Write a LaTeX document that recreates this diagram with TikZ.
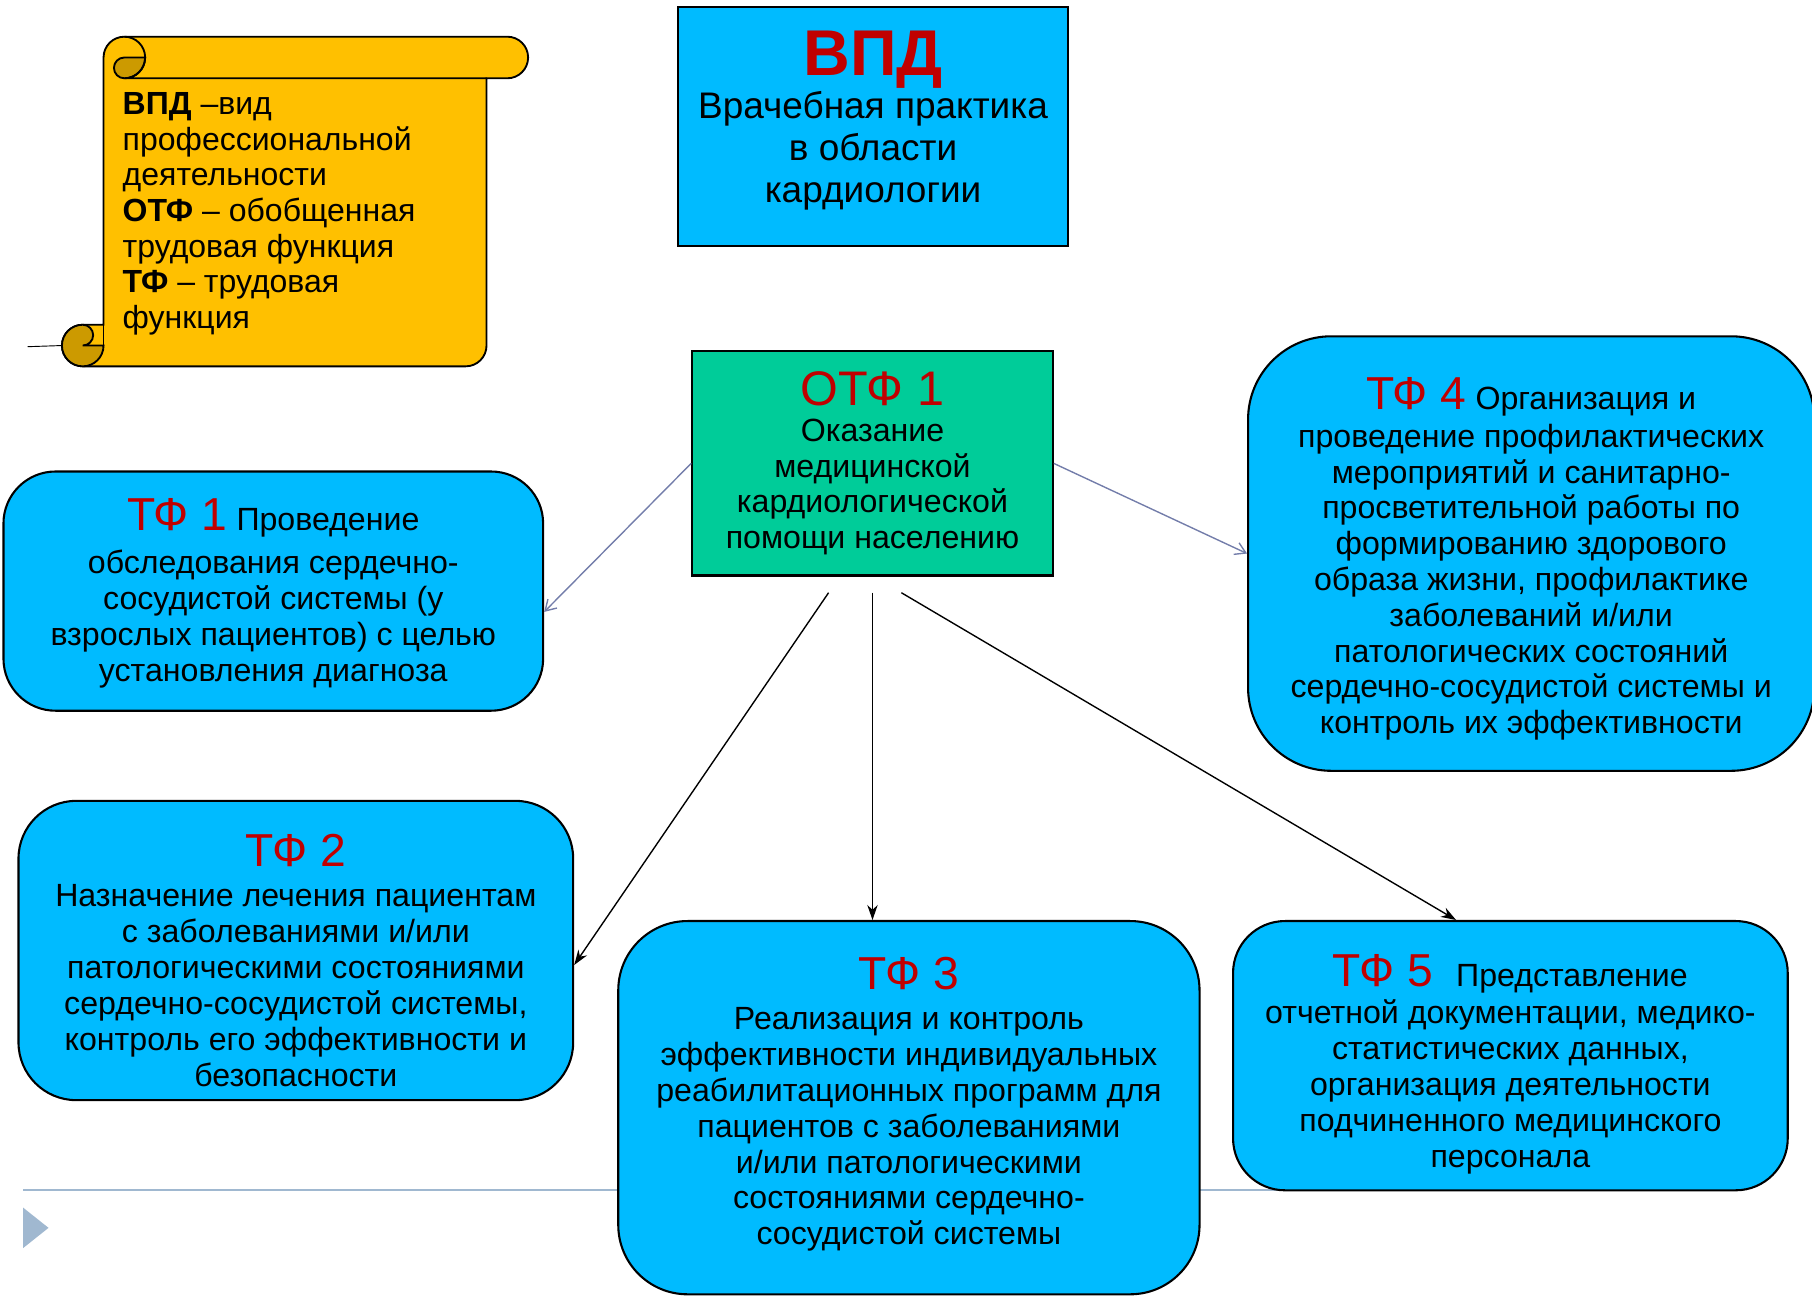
\documentclass[tikz,border=0pt]{standalone}
\usepackage{fontspec}
\setmainfont{Liberation Sans}
\usetikzlibrary{arrows.meta}
\definecolor{skyc}{RGB}{0,187,255}
\definecolor{otfc}{RGB}{0,204,153}
\definecolor{tfred}{RGB}{192,0,0}
\definecolor{scrollc}{RGB}{255,192,0}
\definecolor{scrolldark}{RGB}{204,154,0}
\definecolor{linec}{RGB}{160,184,208}
\definecolor{arrowc}{RGB}{115,125,170}
\newcommand{\tflabel}[1]{{\color{tfred}\fontsize{40}{44}\selectfont #1}}

\begin{document}
\begin{tikzpicture}[x=1pt,y=1pt,
  box/.style={draw,line width=1.8pt,inner sep=0pt},
  tfbox/.style={box,fill=skyc},
  boxtext/.style={align=center,inner sep=0pt,font=\fontsize{27.8}{31}\selectfont},
  scrollline/.style={draw,line width=1.6pt},
  grayarrow/.style={draw=arrowc,line width=1.2pt,-{Straight Barb[length=9pt,width=11pt]}},
  blackarrow/.style={draw,line width=1.2pt,-{Stealth[length=13pt,width=9pt]}}]
\useasboundingbox (0,0) rectangle (1568,-1122.3);
\draw[linec,line width=2pt] (20,-1030) -- (1200,-1030);
\fill[linec] (20,-1045) -- (42,-1062.5) -- (20,-1080) -- cycle;
\filldraw[scrollline,fill=scrollc] (107.6,-31.75) -- (439,-31.75) arc[start angle=90,end angle=-90,radius=18]
  -- (421,-67.75) -- (421,-299) arc[start angle=0,end angle=-90,radius=18] -- (71.6,-317)
  arc[start angle=-90,end angle=-270,radius=18] -- (89.6,-281) -- (89.6,-49.75)
  arc[start angle=180,end angle=90,radius=18] -- cycle;
\filldraw[scrollline,fill=scrolldark] (107.6,-49.75) -- (125.6,-49.75) arc[start angle=0,end angle=-90,radius=18]
  arc[start angle=-90,end angle=-270,radius=9] -- cycle;
\draw[scrollline] (107.6,-31.75) arc[start angle=90,end angle=-90,radius=18] -- (421,-67.75);
\filldraw[scrollline,fill=scrolldark] (71.6,-281) arc[start angle=90,end angle=-90,radius=9] -- (89.6,-299)
  arc[start angle=0,end angle=-270,radius=18] -- cycle;
\draw[scrollline] (89.6,-281) -- (89.6,-299);
\draw[line width=0.8pt] (24,-300) -- (53.6,-299);
\node[font=\fontsize{27.7}{30.8}\selectfont,align=left,anchor=west,inner sep=0pt] (legend) at (106,-185)
  {\textbf{ВПД} –вид\\профессиональной\\деятельности\\\textbf{ОТФ} – обобщенная\\трудовая функция\\\textbf{ТФ} – трудовая\\функция};
\node[box,fill=skyc,minimum width=337pt,minimum height=207pt] (vpd) at (755.5,-109.5) {};
\node[boxtext,font=\fontsize{32}{36}\selectfont] (vpdtext) at ([yshift=5.5pt]vpd.center)
  {{\color{tfred}\bfseries\fontsize{56}{60}\selectfont ВПД}\\[2pt]Врачебная практика\\в области\\кардиологии};
\node[box,fill=otfc,minimum width=312pt,minimum height=194pt] (otf) at (755,-401) {};
\node[boxtext] (otftext) at (otf.center)
  {{\color{tfred}\fontsize{42}{46}\selectfont ОТФ 1}\\Оказание\\медицинской\\кардиологической\\помощи населению};
\node[tfbox,rounded corners=45pt,minimum width=467pt,minimum height=207pt] (tf1) at (236.5,-511.5) {};
\node[boxtext] (tf1text) at ([yshift=-2pt]tf1.center)
  {\tflabel{ТФ 1} Проведение\\[6pt]обследования сердечно-\\сосудистой системы (у\\взрослых пациентов) с целью\\установления диагноза};
\node[tfbox,rounded corners=50pt,minimum width=480pt,minimum height=259pt] (tf2) at (256,-822.5) {};
\node[boxtext] (tf2text) at ([yshift=-8.5pt]tf2.center)
  {\tflabel{ТФ 2}\\[4pt]Назначение лечения пациентам\\с заболеваниями и/или\\патологическими состояниями\\сердечно-сосудистой системы,\\контроль его эффективности и\\безопасности};
\node[tfbox,rounded corners=60pt,minimum width=503pt,minimum height=323pt] (tf3) at (786.5,-958.5) {};
\node[boxtext] (tf3text) at ([yshift=3pt]tf3.center)
  {\tflabel{ТФ 3}\\[4pt]Реализация и контроль\\эффективности индивидуальных\\реабилитационных программ для\\пациентов с заболеваниями\\и/или патологическими\\состояниями сердечно-\\сосудистой системы};
\node[tfbox,rounded corners=72pt,minimum width=490pt,minimum height=376pt] (tf4) at (1325,-479) {};
\node[boxtext] (tf4text) at ([yshift=-4.5pt]tf4.center)
  {\tflabel{ТФ 4} Организация и\\[2pt]проведение профилактических\\мероприятий и санитарно-\\просветительной работы по\\формированию здорового\\образа жизни, профилактике\\заболеваний и/или\\патологических состояний\\сердечно-сосудистой системы и\\контроль их эффективности};
\node[tfbox,rounded corners=45pt,minimum width=480pt,minimum height=233pt] (tf5) at (1307,-913.5) {};
\node[boxtext] (tf5text) at ([yshift=-7.5pt]tf5.center)
  {\tflabel{ТФ 5}\hspace{12pt} Представление\\[1pt]отчетной документации, медико-\\статистических данных,\\организация деятельности\\подчиненного медицинского\\персонала};
\draw[grayarrow] (otf.west) -- ([yshift=-18pt]tf1.east);
\draw[grayarrow] (otf.east) -- (tf4.west);
\coordinate (s2) at ([xshift=-38pt,yshift=-14pt]otf.south);
\coordinate (s3) at ([yshift=-14pt]otf.south);
\coordinate (s5) at ([xshift=25pt,yshift=-14pt]otf.south);
\draw[blackarrow] (s2) -- ([yshift=-12.5pt]tf2.east);
\draw[blackarrow] (s3) -- (s3 |- tf3.north);
\draw[blackarrow] (s5) -- ([xshift=-47pt]tf5.north);
\end{tikzpicture}
\end{document}
